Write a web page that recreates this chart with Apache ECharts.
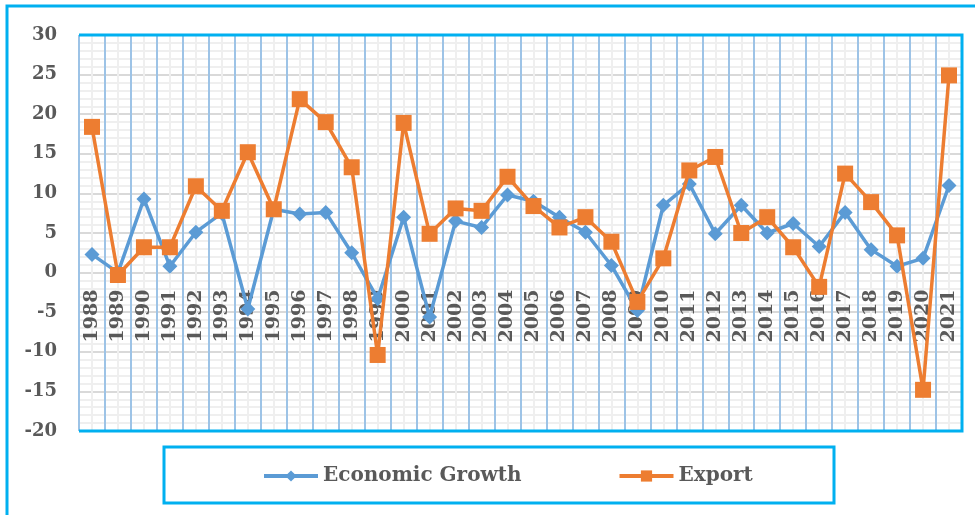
<!DOCTYPE html>
<html>
<head>
<meta charset="utf-8">
<script src="https://cdn.jsdelivr.net/npm/echarts@6/dist/echarts.min.js"></script>
<style>
html,body{margin:0;padding:0;background:#fff;}
#chart{width:975px;height:515px;}
</style>
</head>
<body>
<div id="chart"></div>
<script>
var years = ['1988','1989','1990','1991','1992','1993','1994','1995','1996','1997','1998','1999','2000','2001','2002','2003','2004','2005','2006','2007','2008','2009','2010','2011','2012','2013','2014','2015','2016','2017','2018','2019','2020','2021'];
var economicGrowth = [2.3,0.0,9.3,0.8,5.1,7.5,-4.6,8.0,7.4,7.6,2.5,-3.3,7.0,-5.6,6.5,5.7,9.8,9.0,7.0,5.1,0.9,-4.8,8.5,11.2,4.9,8.5,5.0,6.2,3.3,7.6,2.9,0.8,1.8,11.0];
var exportGrowth = [18.4,-0.3,3.2,3.2,10.9,7.8,15.2,8.0,21.9,19.0,13.3,-10.4,18.9,4.9,8.1,7.8,12.1,8.4,5.7,7.0,3.9,-3.7,1.8,12.9,14.6,5.0,7.0,3.2,-1.8,12.5,8.9,4.7,-14.8,24.9];
var seriesNames = ['Economic Growth','Export'];
var yTicks = {min:-20, max:30, interval:5};

var FONT = 'DejaVu Serif';
var TXT = '#595959';
var DIAMOND = 'path://M0,-1L1,0L0,1L-1,0Z';
var chart = echarts.init(document.getElementById('chart'), null, {renderer:'canvas'});
var gl = 79, gr = 962, gt = 35, gb = 431;
var zeroY = gt + (yTicks.max / (yTicks.max - yTicks.min)) * (gb - gt);
chart.setOption({
  animation:false,
  backgroundColor:'#ffffff',
  grid:[
    {left:gl, right:975-gr, top:gt, bottom:515-gb, containLabel:false},
    {left:gl, right:975-gr, top:gt, bottom:515-zeroY, containLabel:false}
  ],
  legend:{
    data:seriesNames,
    left:262, top:466,
    padding:0,
    itemWidth:54, itemHeight:14, itemGap:96,
    lineStyle:{width:4},
    textStyle:{fontFamily:FONT, fontWeight:'bold', fontSize:20, color:TXT}
  },
  xAxis:[{
    gridIndex:0, type:'category', data:years, boundaryGap:true, z:1, position:'bottom',
    axisLine:{show:false, onZero:false}, axisTick:{show:false}, axisLabel:{show:false},
    splitLine:{show:true, interval:0, lineStyle:{color:'#9DC3E6', width:2}}
  },{
    gridIndex:0, type:'value', min:0, max:68, interval:1, z:0, position:'top',
    axisLine:{show:false, onZero:false}, axisTick:{show:false}, axisLabel:{show:false},
    splitLine:{show:true, lineStyle:{color:'#EFEFEF', width:2}}
  },{
    gridIndex:1, type:'category', data:years, boundaryGap:true, z:1, position:'bottom',
    axisLine:{show:false, onZero:false}, axisTick:{show:false}, splitLine:{show:false},
    axisLabel:{interval:0, rotate:90, margin:17, fontFamily:FONT, fontWeight:'bold', fontSize:19, color:TXT}
  }],
  yAxis:[{
    gridIndex:0, type:'value', min:yTicks.min, max:yTicks.max, interval:yTicks.interval, z:0,
    axisLine:{show:false, onZero:false}, axisTick:{show:false},
    axisLabel:{margin:22, fontFamily:FONT, fontWeight:'bold', fontSize:18, color:TXT},
    splitLine:{show:true, lineStyle:{color:'#D9D9D9', width:2}},
    minorTick:{show:false, splitNumber:5},
    minorSplitLine:{show:true, lineStyle:{color:'#EFEFEF', width:2}}
  },{
    gridIndex:1, type:'value', show:false, min:0, max:1
  }],
  series:[{
    name:seriesNames[0], type:'line', data:economicGrowth, z:3,
    xAxisIndex:0, yAxisIndex:0,
    symbol:DIAMOND, symbolSize:15,
    lineStyle:{color:'#5B9BD5', width:3.5},
    itemStyle:{color:'#5B9BD5'}
  },{
    name:seriesNames[1], type:'line', data:exportGrowth, z:4,
    xAxisIndex:0, yAxisIndex:0,
    symbol:'rect', symbolSize:16,
    lineStyle:{color:'#ED7D31', width:3.5},
    itemStyle:{color:'#ED7D31'}
  }],
  graphic:[
    {type:'rect', z:100, shape:{x:7, y:6, width:1000, height:600}, style:{fill:null, stroke:'#00B0F0', lineWidth:3}},
    {type:'polyline', z:100, shape:{points:[[gl,gt],[gr,gt],[gr,gb],[gl,gb]]}, style:{fill:null, stroke:'#00B0F0', lineWidth:3}},
    {type:'rect', z:100, shape:{x:164, y:447, width:670, height:56}, style:{fill:null, stroke:'#00B0F0', lineWidth:3}}
  ]
});
</script>
</body>
</html>
